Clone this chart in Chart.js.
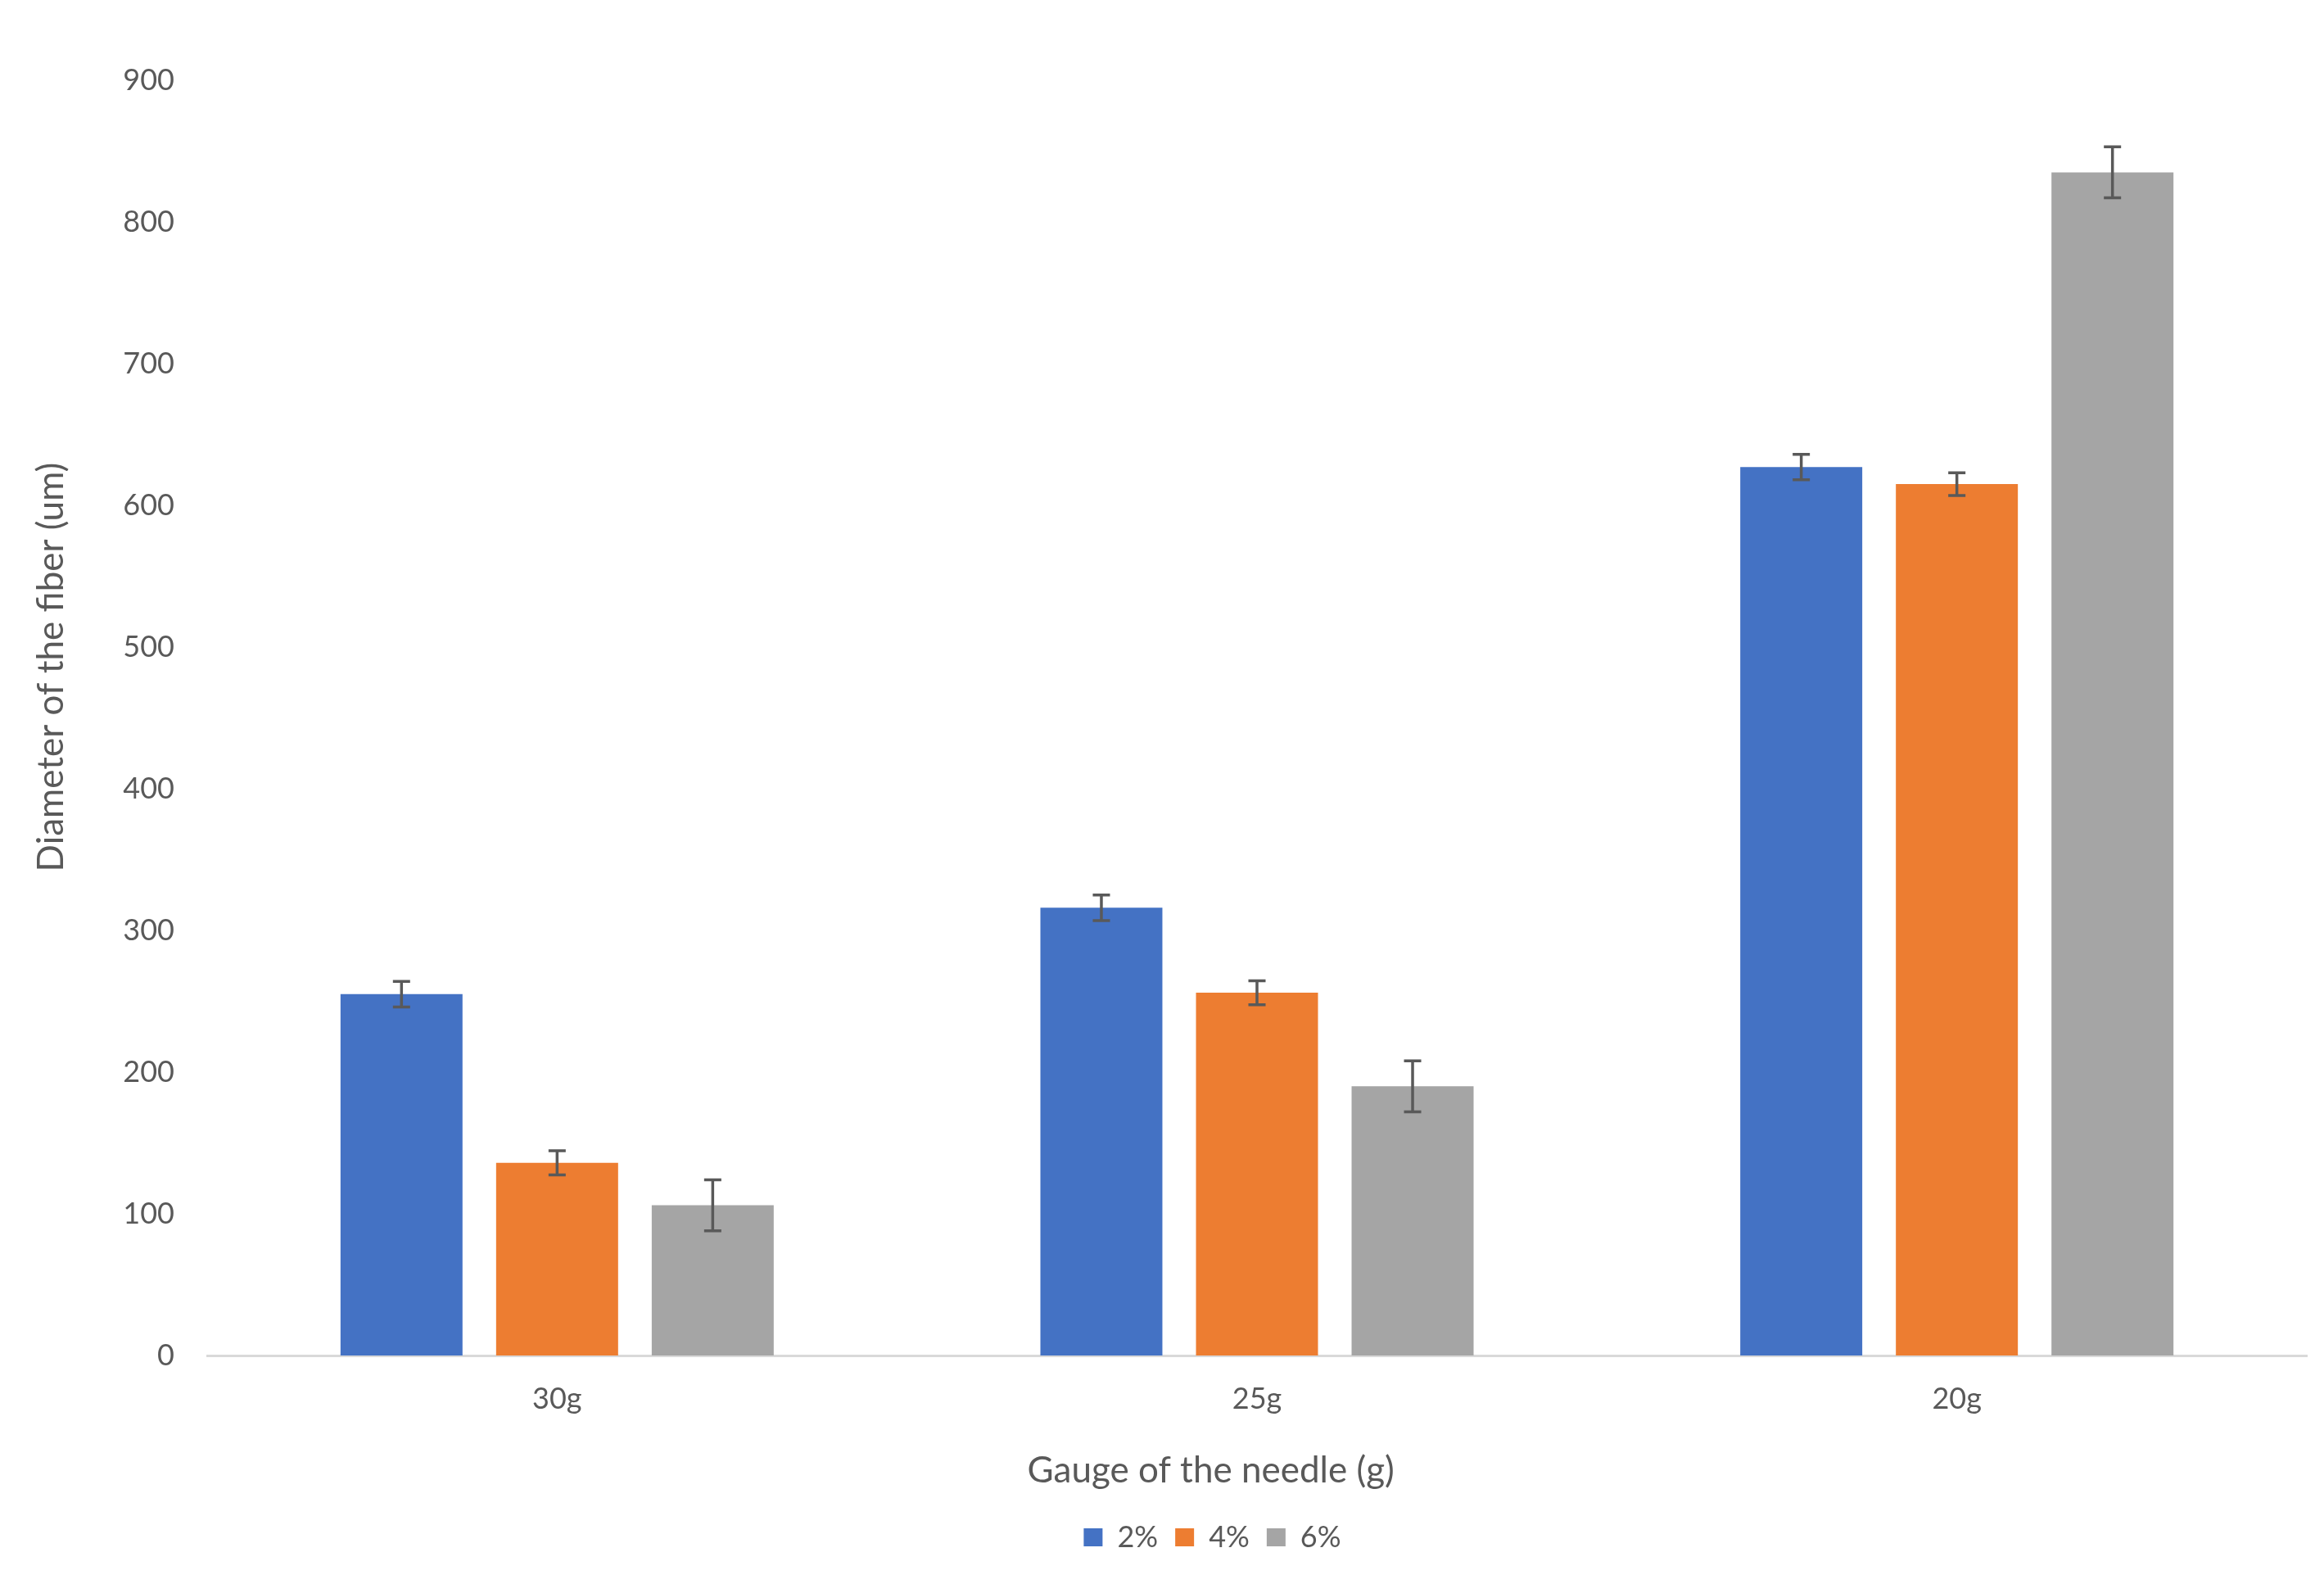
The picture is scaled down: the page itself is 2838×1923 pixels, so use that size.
<!DOCTYPE html>
<html><head><meta charset="utf-8">
<script src="https://cdn.jsdelivr.net/npm/chart.js@4"></script>
<style>html,body{margin:0;padding:0;background:#fff;}canvas{display:block;}</style>
</head><body>
<canvas id="c" width="2838" height="1923"></canvas>
<script>
const categories = ['30g', '25g', '20g'];
const seriesNames = ['2%', '4%', '6%'];
const values2 = [255, 316, 627];
const values4 = [136, 256, 615];
const values6 = [106, 190, 835];
const errors2 = [9, 9, 9];
const errors4 = [8.5, 8.5, 8];
const errors6 = [18, 18, 18];
const yTickValues = [0, 100, 200, 300, 400, 500, 600, 700, 800, 900];
const xTitle = 'Gauge of the needle (g)';
const yTitle = 'Diameter of the fiber (um)';
const colors = ['#4472C4', '#ED7D31', '#A5A5A5'];
const allValues = [values2, values4, values6];
const allErrors = [errors2, errors4, errors6];

const FONT = 'Lato, Carlito, "Open Sans", sans-serif';
const TEXT = '#595959';

const errorBarPlugin = {
  id: 'errorBars',
  afterDatasetsDraw(chart) {
    const ctx = chart.ctx;
    const yScale = chart.scales.y;
    ctx.save();
    ctx.strokeStyle = '#595959';
    ctx.lineWidth = 3.5;
    chart.data.datasets.forEach((ds, di) => {
      const meta = chart.getDatasetMeta(di);
      meta.data.forEach((bar, i) => {
        const v = ds.data[i];
        const e = ds.errors[i];
        const yt = yScale.getPixelForValue(v + e);
        const yb = yScale.getPixelForValue(v - e);
        const x = bar.x;
        const cap = 10.5;
        ctx.beginPath();
        ctx.moveTo(x, yt); ctx.lineTo(x, yb);
        ctx.moveTo(x - cap, yt); ctx.lineTo(x + cap, yt);
        ctx.moveTo(x - cap, yb); ctx.lineTo(x + cap, yb);
        ctx.stroke();
      });
    });
    ctx.restore();
  }
};

// Excel centres its legend slightly right of the canvas centre
const legendShiftPlugin = {
  id: 'legendShift',
  afterLayout(chart) {
    if (chart.legend) { chart.legend.left += 72; chart.legend.right += 72; }
  }
};

new Chart(document.getElementById('c'), {
  type: 'bar',
  data: {
    labels: categories,
    datasets: seriesNames.map((n, k) => ({
      label: n,
      data: allValues[k],
      errors: allErrors[k],
      backgroundColor: colors[k],
      borderWidth: 0,
      categoryPercentage: 0.667,
      barPercentage: 0.784
    }))
  },
  options: {
    responsive: false,
    animation: false,
    devicePixelRatio: 1,
    layout: { padding: { left: 0, right: 21, top: 98, bottom: 18 } },
    plugins: {
      legend: {
        position: 'bottom',
        labels: {
          boxWidth: 23, boxHeight: 22, padding: 21,
          color: TEXT,
          font: { family: FONT, size: 36 }
        }
      },
      tooltip: { enabled: false }
    },
    scales: {
      x: {
        grid: { display: false, drawTicks: false },
        border: { display: true, color: '#D9D9D9', width: 3 },
        ticks: { color: TEXT, font: { family: FONT, size: 36 }, padding: 32 },
        title: {
          display: true, text: xTitle + ' '.repeat(10), color: TEXT,
          font: { family: FONT, size: 44 }, padding: { top: 10, bottom: 16 }
        },
        afterFit(scale) { scale.height = 183; }
      },
      y: {
        min: 0, max: 900,
        afterBuildTicks(scale) { scale.ticks = yTickValues.map(v => ({ value: v })); },
        grid: { display: false, drawTicks: false },
        border: { display: false },
        ticks: { color: TEXT, font: { family: FONT, size: 36 }, padding: 40 },
        title: {
          display: true, text: ' '.repeat(11) + yTitle, color: TEXT,
          font: { family: FONT, size: 44 }, padding: { top: 36, bottom: 10 }
        },
        afterFit(scale) { scale.width = 253; }
      }
    }
  },
  plugins: [errorBarPlugin, legendShiftPlugin]
});
</script>
</body></html>
